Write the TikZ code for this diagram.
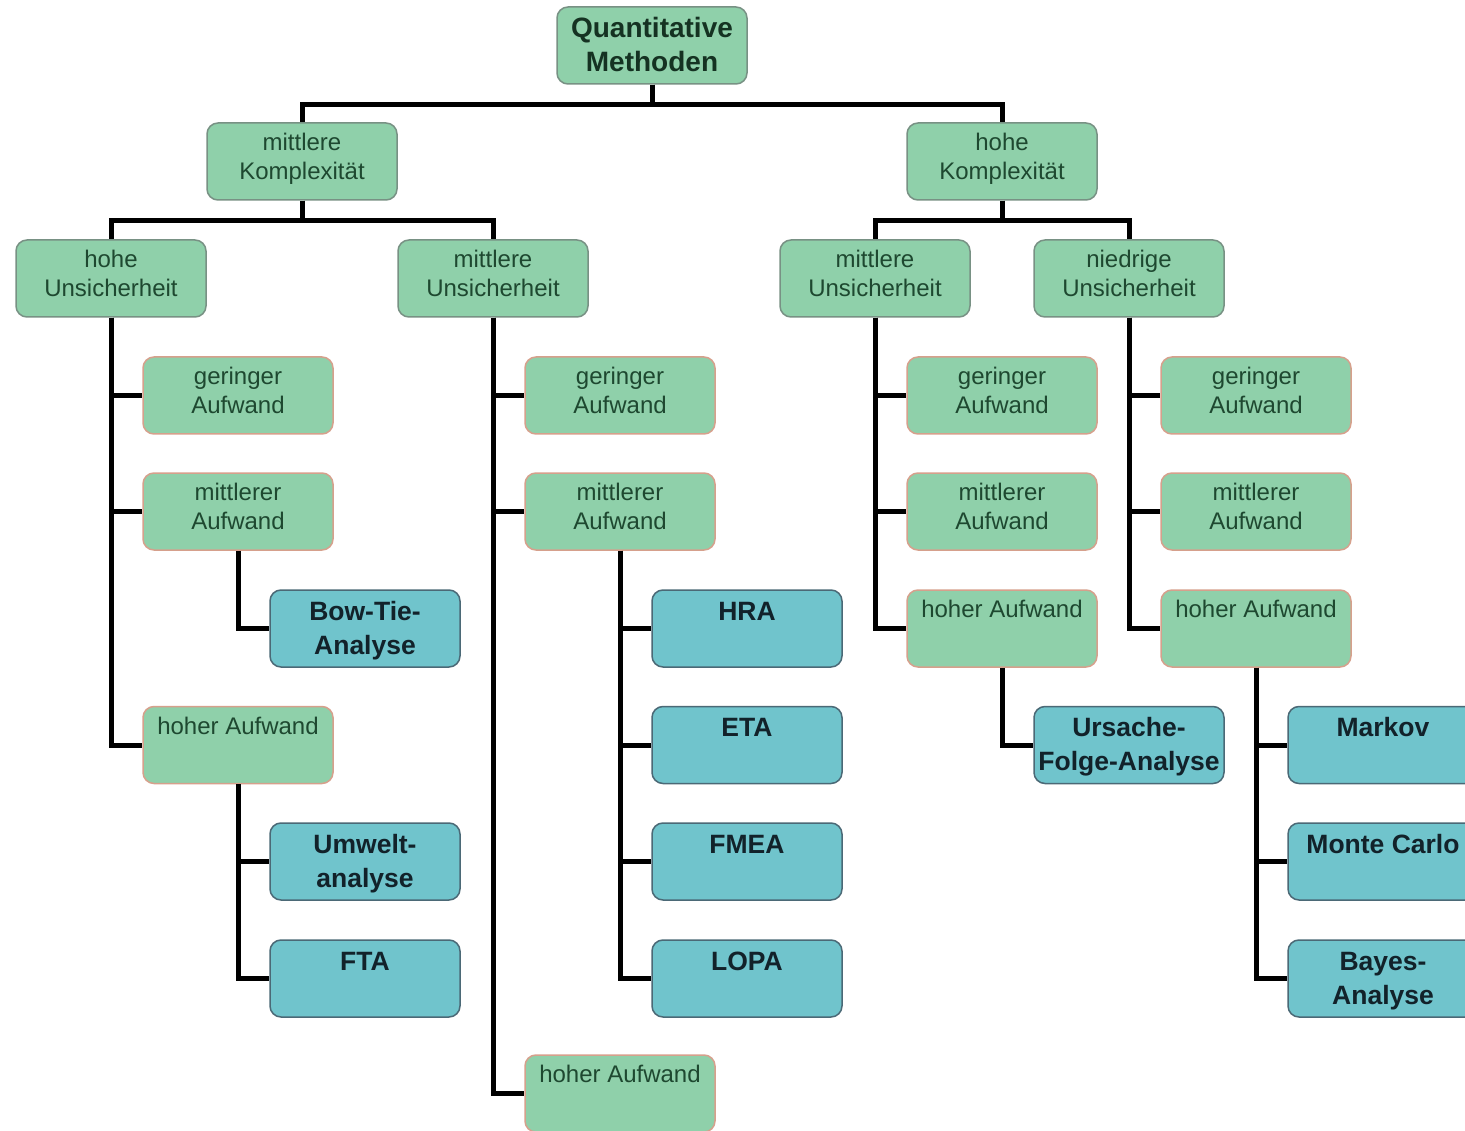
\documentclass[tikz,border=0pt]{standalone}
\usepackage{fontspec}
\setmainfont{Liberation Sans}
\definecolor{gfill}{RGB}{143,208,170}
\definecolor{gline}{RGB}{120,145,132}
\definecolor{aline}{RGB}{214,160,140}
\definecolor{bfill}{RGB}{112,196,204}
\definecolor{bline}{RGB}{75,105,118}
\definecolor{gtext}{RGB}{30,72,48}
\definecolor{btext}{RGB}{18,34,42}
\tikzset{
 box/.style={rounded corners=11pt, minimum width=190pt, minimum height=77pt, inner sep=0pt, line width=1.5pt},
 gbox/.style={box, fill=gfill, draw=gline},
 abox/.style={box, fill=gfill, draw=aline},
 bbox/.style={box, fill=bfill, draw=bline},
 gtxt/.style={anchor=north, yshift=-8pt, inner sep=0pt, align=center, text=gtext, font=\fontsize{24}{29}\selectfont},
 btxt/.style={anchor=north, yshift=-7pt, inner sep=0pt, align=center, text=btext, font=\fontsize{26.5}{34}\selectfont\bfseries},
 rtxt/.style={anchor=north, yshift=-7pt, inner sep=0pt, align=center, text=gtext!70!black, font=\fontsize{28}{34}\selectfont\bfseries},
 conn/.style={line width=5pt, black}
}
\begin{document}
\begin{tikzpicture}[x=1pt,y=-1pt]
\useasboundingbox[fill=white] (0,0) rectangle (1465,1131);
% nodes
\node[gbox, label={[rtxt]north:\strut Quantitative\\Methoden}] (root) at (652,45.5) {};
\node[gbox, label={[gtxt]north:\strut mittlere\\Komplexität}] (mk) at (302,161.5) {};
\node[gbox, label={[gtxt]north:\strut hohe\\Komplexität}] (hk) at (1002,161.5) {};
\node[gbox, label={[gtxt]north:\strut hohe\\Unsicherheit}] (hu) at (111,278.5) {};
\node[gbox, label={[gtxt]north:\strut mittlere\\Unsicherheit}] (mu) at (493,278.5) {};
\node[gbox, label={[gtxt]north:\strut mittlere\\Unsicherheit}] (mu2) at (875,278.5) {};
\node[gbox, label={[gtxt]north:\strut niedrige\\Unsicherheit}] (nu) at (1129,278.5) {};
% column 1
\node[abox, label={[gtxt]north:\strut geringer\\Aufwand}] (c1g) at (238,395.5) {};
\node[abox, label={[gtxt]north:\strut mittlerer\\Aufwand}] (c1m) at (238,511.5) {};
\node[abox, label={[gtxt]north:\strut hoher Aufwand}] (c1h) at (238,745) {};
\node[bbox, label={[btxt]north:\strut Bow-Tie-\\Analyse}] (bt) at (365,628.5) {};
\node[bbox, label={[btxt]north:\strut Umwelt-\\analyse}] (um) at (365,861.5) {};
\node[bbox, label={[btxt]north:\strut FTA}] (fta) at (365,978.5) {};
% column 2
\node[abox, label={[gtxt]north:\strut geringer\\Aufwand}] (c2g) at (620,395.5) {};
\node[abox, label={[gtxt]north:\strut mittlerer\\Aufwand}] (c2m) at (620,511.5) {};
\node[abox, label={[gtxt]north:\strut hoher Aufwand}] (c2h) at (620,1093.5) {};
\node[bbox, label={[btxt]north:\strut HRA}] (hra) at (747,628.5) {};
\node[bbox, label={[btxt]north:\strut ETA}] (eta) at (747,745) {};
\node[bbox, label={[btxt]north:\strut FMEA}] (fmea) at (747,861.5) {};
\node[bbox, label={[btxt]north:\strut LOPA}] (lopa) at (747,978.5) {};
% column 3
\node[abox, label={[gtxt]north:\strut geringer\\Aufwand}] (c3g) at (1002,395.5) {};
\node[abox, label={[gtxt]north:\strut mittlerer\\Aufwand}] (c3m) at (1002,511.5) {};
\node[abox, label={[gtxt]north:\strut hoher Aufwand}] (c3h) at (1002,628.5) {};
\node[bbox, label={[btxt]north:\strut Ursache-\\Folge-Analyse}] (ufa) at (1129,745) {};
% column 4
\node[abox, label={[gtxt]north:\strut geringer\\Aufwand}] (c4g) at (1256,395.5) {};
\node[abox, label={[gtxt]north:\strut mittlerer\\Aufwand}] (c4m) at (1256,511.5) {};
\node[abox, label={[gtxt]north:\strut hoher Aufwand}] (c4h) at (1256,628.5) {};
\node[bbox, label={[btxt]north:\strut Markov}] (mar) at (1383,745) {};
\node[bbox, label={[btxt]north:\strut Monte Carlo}] (mc) at (1383,861.5) {};
\node[bbox, label={[btxt]north:\strut Bayes-\\Analyse}] (bay) at (1383,978.5) {};
% connectors
\draw[conn] (root.south) -- ++(0,20) -| (mk.north);
\draw[conn] (root.south) -- ++(0,20) -| (hk.north);
\draw[conn] (mk.south) -- ++(0,20) -| (hu.north);
\draw[conn] (mk.south) -- ++(0,20) -| (mu.north);
\draw[conn] (hk.south) -- ++(0,20) -| (mu2.north);
\draw[conn] (hk.south) -- ++(0,20) -| (nu.north);
\foreach \p/\c in {hu/c1g,hu/c1m,hu/c1h,mu/c2g,mu/c2m,mu/c2h,mu2/c3g,mu2/c3m,mu2/c3h,nu/c4g,nu/c4m,nu/c4h,
  c1m/bt,c1h/um,c1h/fta,c2m/hra,c2m/eta,c2m/fmea,c2m/lopa,c3h/ufa,c4h/mar,c4h/mc,c4h/bay}
  \draw[conn] (\p.south) |- (\c.west);
\end{tikzpicture}
\end{document}
